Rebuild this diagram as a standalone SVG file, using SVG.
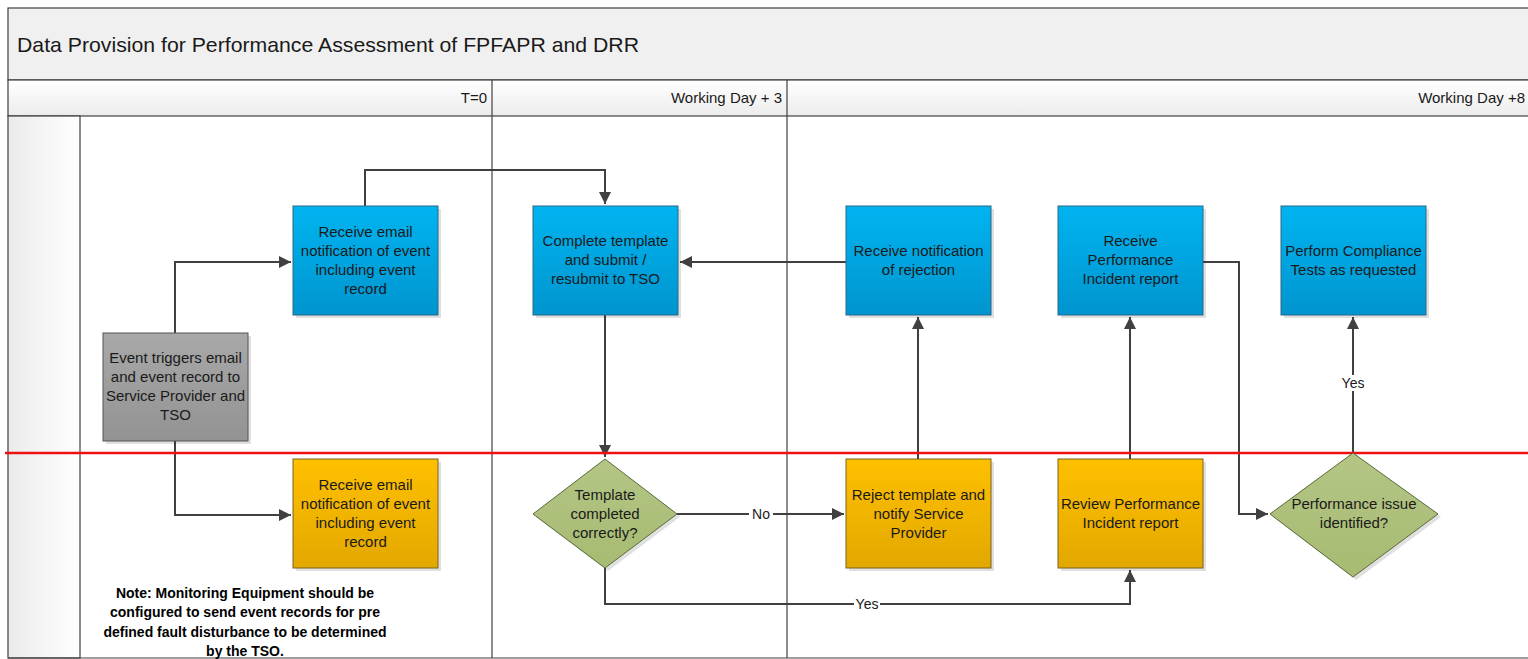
<svg xmlns="http://www.w3.org/2000/svg" width="1528" height="659" viewBox="0 0 1528 659">
<defs>
<linearGradient id="gBlue" x1="0" y1="0" x2="0" y2="1"><stop offset="0" stop-color="#00b4f0"/><stop offset="1" stop-color="#0095cf"/></linearGradient>
<linearGradient id="gOrange" x1="0" y1="0" x2="0" y2="1"><stop offset="0" stop-color="#ffc000"/><stop offset="1" stop-color="#e3a800"/></linearGradient>
<linearGradient id="gGray" x1="0" y1="0" x2="0" y2="1"><stop offset="0" stop-color="#a8a8a8"/><stop offset="1" stop-color="#939393"/></linearGradient>
<linearGradient id="gGreen" x1="0" y1="0" x2="0" y2="1"><stop offset="0" stop-color="#b4c585"/><stop offset="1" stop-color="#a7bb72"/></linearGradient>
<linearGradient id="gHead" x1="0" y1="0" x2="0" y2="1"><stop offset="0" stop-color="#ffffff"/><stop offset="1" stop-color="#ececec"/></linearGradient>
<linearGradient id="gLane" x1="0" y1="0" x2="1" y2="0"><stop offset="0" stop-color="#ebebeb"/><stop offset="1" stop-color="#ffffff"/></linearGradient>
<marker id="arr" viewBox="0 0 10 10" refX="10" refY="5" markerWidth="12" markerHeight="12" markerUnits="userSpaceOnUse" orient="auto"><path d="M0,0 L10,5 L0,10 z" fill="#404040"/></marker>
</defs>
<style>
.blue{fill:url(#gBlue);stroke:#2a6885;stroke-width:1}
.orange{fill:url(#gOrange);stroke:#7a6220;stroke-width:1}
.gray{fill:url(#gGray);stroke:#555555;stroke-width:1}
.green{fill:url(#gGreen);stroke:#5a6a3a;stroke-width:1}
.shadow{fill:#000;opacity:0.12}
.t{font-family:"Liberation Sans",Arial,sans-serif;font-size:15px;fill:#1a1a1a;text-anchor:middle}
.h{font-family:"Liberation Sans",Arial,sans-serif;font-size:15px;fill:#1a1a1a;text-anchor:end}
.note{font-family:"Liberation Sans",Arial,sans-serif;font-size:14px;font-weight:bold;fill:#000;text-anchor:middle}
.lbl{font-family:"Liberation Sans",Arial,sans-serif;font-size:14px;fill:#1a1a1a;text-anchor:middle}
.c{fill:none;stroke:#404040;stroke-width:2}
</style>
<rect x="0" y="0" width="1528" height="659" fill="#ffffff"/>
<g id="frame">
<rect x="8" y="8" width="1530" height="72" fill="#f0f0f0" stroke="#404040" stroke-width="1.2"/>
<rect x="8" y="80" width="1530" height="36" fill="url(#gHead)" stroke="#404040" stroke-width="1.2"/>
<rect x="8" y="116" width="72" height="542" fill="url(#gLane)" stroke="#404040" stroke-width="1.2"/>
<line x1="8" y1="658" x2="1528" y2="658" stroke="#404040" stroke-width="1.2"/>
<line x1="492" y1="80" x2="492" y2="658" stroke="#404040" stroke-width="1.2"/>
<line x1="787" y1="80" x2="787" y2="658" stroke="#404040" stroke-width="1.2"/>
<text x="17" y="52" font-family="'Liberation Sans',Arial,sans-serif" font-size="21" fill="#1a1a1a" textLength="622" lengthAdjust="spacingAndGlyphs">Data Provision for Performance Assessment of FPFAPR and DRR</text>
<text class="h" x="487" y="103">T=0</text>
<text class="h" x="782" y="103">Working Day + 3</text>
<text class="h" x="1525" y="103">Working Day +8</text>
</g>
<g id="connectors">
<polyline class="c" points="175,333 175,262 291,262" marker-end="url(#arr)"/>
<polyline class="c" points="175,441 175,515 291,515" marker-end="url(#arr)"/>
<polyline class="c" points="365,206 365,170 605,170 605,204" marker-end="url(#arr)"/>
<polyline class="c" points="605,315 605,457" marker-end="url(#arr)"/>
<polyline class="c" points="677,514 844,514" marker-end="url(#arr)"/>
<polyline class="c" points="605,568 605,604 1130,604 1130,570" marker-end="url(#arr)"/>
<polyline class="c" points="918,459 918,317" marker-end="url(#arr)"/>
<polyline class="c" points="846,262 680,262" marker-end="url(#arr)"/>
<polyline class="c" points="1130,459 1130,317" marker-end="url(#arr)"/>
<polyline class="c" points="1203,262 1239,262 1239,514 1268,514" marker-end="url(#arr)"/>
<polyline class="c" points="1353,453 1353,317" marker-end="url(#arr)"/>
<rect x="749" y="506" width="24" height="16" fill="#ffffff"/>
<text class="lbl" x="761" y="519">No</text>
<rect x="854" y="596" width="26" height="16" fill="#ffffff"/>
<text class="lbl" x="867" y="609">Yes</text>
<rect x="1340" y="375" width="26" height="16" fill="#ffffff"/>
<text class="lbl" x="1353" y="388">Yes</text>
</g>
<line id="divider" x1="5" y1="453" x2="1528" y2="453" stroke="#ee1111" stroke-width="2.5"/>
<g id="n-event">
<rect class="shadow" x="106" y="336" width="145" height="108"/>
<rect class="gray" x="103" y="333" width="145" height="108"/>
<text class="t" x="175.5" y="363">Event triggers email</text>
<text class="t" x="175.5" y="382">and event record to</text>
<text class="t" x="175.5" y="401">Service Provider and</text>
<text class="t" x="175.5" y="420">TSO</text>
</g>
<g id="n-recv-email-tso">
<rect class="shadow" x="296" y="209" width="145" height="109"/>
<rect class="blue" x="293" y="206" width="145" height="109"/>
<text class="t" x="365.5" y="237">Receive email</text>
<text class="t" x="365.5" y="256">notification of event</text>
<text class="t" x="365.5" y="275">including event</text>
<text class="t" x="365.5" y="294">record</text>
</g>
<g id="n-recv-email-sp">
<rect class="shadow" x="296" y="462" width="145" height="109"/>
<rect class="orange" x="293" y="459" width="145" height="109"/>
<text class="t" x="365.5" y="490">Receive email</text>
<text class="t" x="365.5" y="509">notification of event</text>
<text class="t" x="365.5" y="528">including event</text>
<text class="t" x="365.5" y="547">record</text>
</g>
<g id="n-complete">
<rect class="shadow" x="536" y="209" width="145" height="109"/>
<rect class="blue" x="533" y="206" width="145" height="109"/>
<text class="t" x="605.5" y="246">Complete template</text>
<text class="t" x="605.5" y="265">and submit /</text>
<text class="t" x="605.5" y="284">resubmit  to TSO</text>
</g>
<g id="n-template-ok">
<polygon class="shadow" points="608,462 680,517 608,571 536,517"/>
<polygon class="green" points="605,459 677,514 605,568 533,514"/>
<text class="t" x="605" y="500">Template</text>
<text class="t" x="605" y="519">completed</text>
<text class="t" x="605" y="538">correctly?</text>
</g>
<g id="n-recv-reject">
<rect class="shadow" x="849" y="209" width="145" height="109"/>
<rect class="blue" x="846" y="206" width="145" height="109"/>
<text class="t" x="918.5" y="256">Receive notification</text>
<text class="t" x="918.5" y="275">of rejection</text>
</g>
<g id="n-reject">
<rect class="shadow" x="849" y="462" width="145" height="109"/>
<rect class="orange" x="846" y="459" width="145" height="109"/>
<text class="t" x="918.5" y="500">Reject template and</text>
<text class="t" x="918.5" y="519">notify Service</text>
<text class="t" x="918.5" y="538">Provider</text>
</g>
<g id="n-recv-pir">
<rect class="shadow" x="1061" y="209" width="145" height="109"/>
<rect class="blue" x="1058" y="206" width="145" height="109"/>
<text class="t" x="1130.5" y="246">Receive</text>
<text class="t" x="1130.5" y="265">Performance</text>
<text class="t" x="1130.5" y="284">Incident report</text>
</g>
<g id="n-review-pir">
<rect class="shadow" x="1061" y="462" width="145" height="109"/>
<rect class="orange" x="1058" y="459" width="145" height="109"/>
<text class="t" x="1130.5" y="509">Review Performance</text>
<text class="t" x="1130.5" y="528">Incident report</text>
</g>
<g id="n-compliance">
<rect class="shadow" x="1284" y="209" width="145" height="109"/>
<rect class="blue" x="1281" y="206" width="145" height="109"/>
<text class="t" x="1353.5" y="256">Perform Compliance</text>
<text class="t" x="1353.5" y="275">Tests as requested</text>
</g>
<g id="n-perf-issue">
<polygon class="shadow" points="1356,456 1441,517 1356,580 1273,517"/>
<polygon class="green" points="1353,453 1438,514 1353,577 1270,514"/>
<text class="t" x="1354" y="509">Performance issue</text>
<text class="t" x="1354" y="528">identified?</text>
</g>
<g id="note">
<text class="note" x="245" y="598">Note: Monitoring Equipment should be</text>
<text class="note" x="245" y="617">configured to send event records for pre</text>
<text class="note" x="245" y="637">defined fault disturbance to be determined</text>
<text class="note" x="245" y="656">by the TSO.</text>
</g>
</svg>
